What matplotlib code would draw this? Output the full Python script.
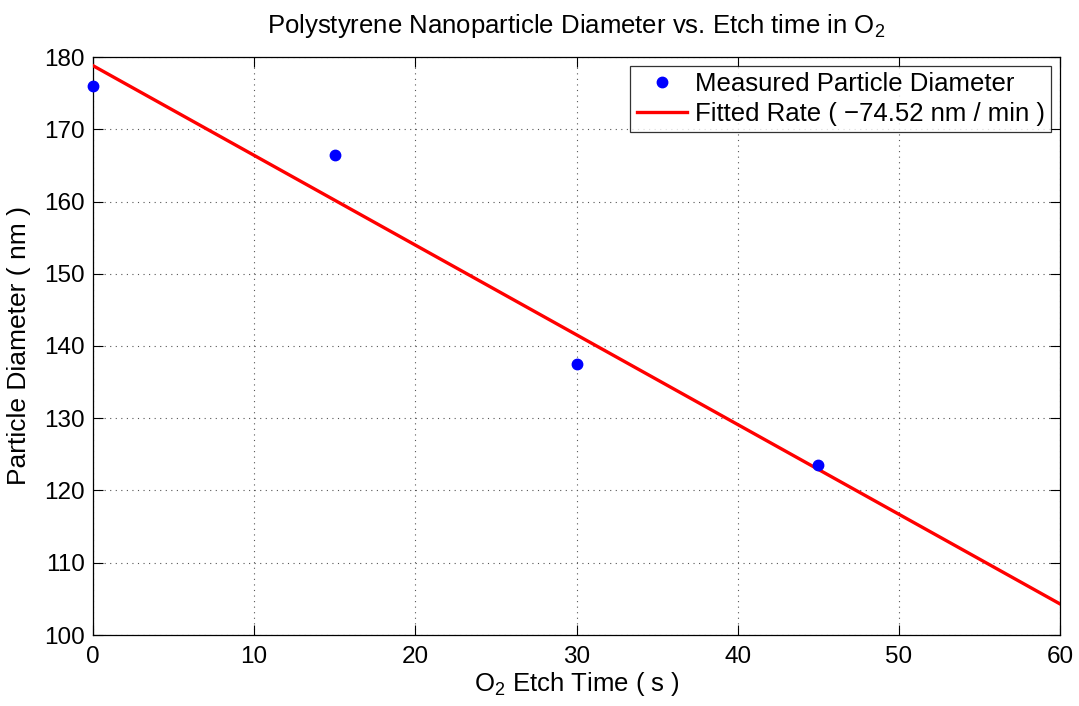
import matplotlib
matplotlib.use("Agg")
import matplotlib.pyplot as plt

# measured data
etch_time_s = [0, 15, 30, 45]
diameter_nm = [176.0, 166.4, 137.5, 123.5]

# fitted line end points (rate -74.52 nm/min)
fit_time_s = [0, 60]
fit_diameter_nm = [178.8, 104.3]
fit_rate = -74.52

x_ticks = [0, 10, 20, 30, 40, 50, 60]
y_ticks = [100, 110, 120, 130, 140, 150, 160, 170, 180]

plt.rcParams["font.family"] = ["Liberation Sans", "DejaVu Sans"]
plt.rcParams["mathtext.default"] = "regular"

fig = plt.figure(figsize=(10.79, 7.06), dpi=100, facecolor="white")
ax = fig.add_axes([93/1079, 1 - 635/706, (1060-93)/1079, (635-57)/706])

ax.plot(etch_time_s, diameter_nm, "o", color="#0000ff", markersize=7.5,
        label="Measured Particle Diameter", zorder=4, clip_on=False)
ax.plot(fit_time_s, fit_diameter_nm, "-", color="#ff0000", lw=2.4,
        label="Fitted Rate ( \u2212%.2f nm / min )" % abs(fit_rate), zorder=3)

ax.set_xlim(0, 60)
ax.set_ylim(100, 180)
ax.set_xticks(x_ticks)
ax.set_yticks(y_ticks)
ax.tick_params(direction="in", length=7, width=0.8, labelsize=17.5,
               top=True, right=True)
ax.tick_params(axis="y", pad=6)
ax.tick_params(axis="x", pad=8)
ax.grid(True, linestyle=(0, (1, 4)), color="#555555", lw=0.8)
for s in ax.spines.values():
    s.set_linewidth(0.9)

ax.set_xlabel("O$_2$ Etch Time ( s )", fontsize=18.5, labelpad=1)
ax.set_ylabel("Particle Diameter ( nm )", fontsize=19, labelpad=9)
ax.set_title("Polystyrene Nanoparticle Diameter vs. Etch time in O$_2$",
             fontsize=18.5, pad=17)

leg = ax.legend(loc="upper right", fontsize=18.5, frameon=True, fancybox=False,
                edgecolor="black", borderpad=0.25, handlelength=1.95,
                handletextpad=0.3, labelspacing=0.2, borderaxespad=0.35)
leg.get_frame().set_linewidth(0.9)

fig.savefig("out.png", dpi=100, facecolor="white")
